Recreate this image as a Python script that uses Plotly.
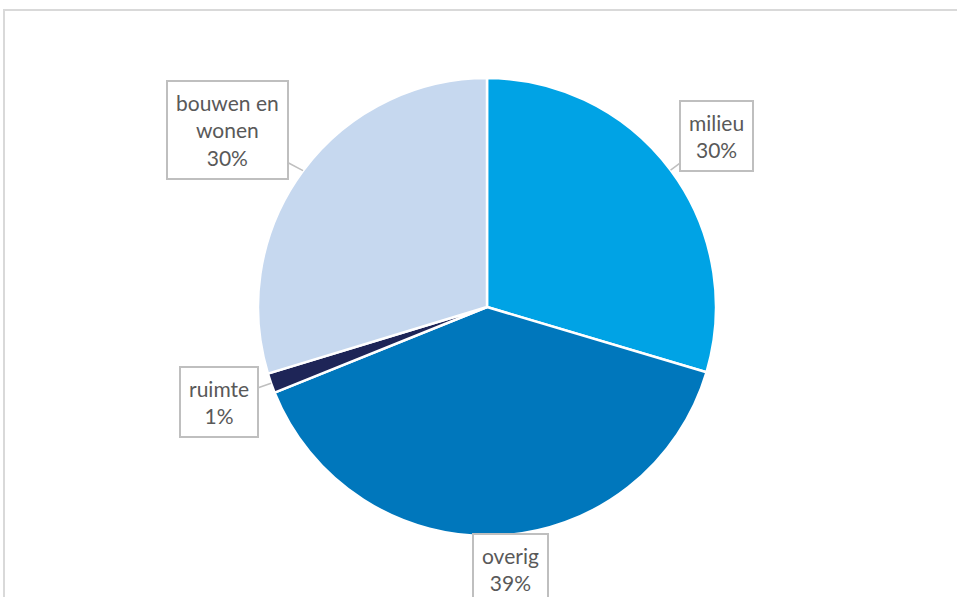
import math
import plotly.graph_objects as go

labels = ["milieu", "overig", "ruimte", "bouwen en wonen"]
label_text = ["milieu", "overig", "ruimte", "bouwen en<br>wonen"]
values = [29.6, 39.3, 1.4, 29.7]
colors = ["#00A3E5", "#0077BC", "#1E2557", "#C6D8EF"]
label_dist = [1.25, 1.15, 1.24, 1.37]
label_angle_shift = [0.0, -2.5, 0.0, -2.3]

W, H = 957, 597
cx, cy, r = 487, 307, 229

fig = go.Figure(go.Pie(
    labels=labels, values=values, sort=False, direction="clockwise", rotation=0,
    marker=dict(colors=colors, line=dict(color="white", width=2.5)),
    textinfo="none", hoverinfo="label+percent", showlegend=False,
    domain=dict(x=[(cx - r) / W, (cx + r) / W], y=[1 - (cy + r) / H, 1 - (cy - r) / H]),
))

total = sum(values)
cum = 0
for lab, txt, v, k, da in zip(labels, label_text, values, label_dist, label_angle_shift):
    mid = (cum + v / 2) / total * 2 * math.pi
    cum += v
    pct = round(v / total * 100)
    la = mid + math.radians(da)
    lx = cx + k * r * math.sin(la)
    ly = cy - k * r * math.cos(la)
    ex = cx + 1.0 * r * math.sin(mid)
    ey = cy - 1.0 * r * math.cos(mid)
    fig.add_annotation(
        x=ex / W, y=1 - ey / H, xref="paper", yref="paper",
        ax=lx - ex, ay=ly - ey, axref="pixel", ayref="pixel",
        text=f"{txt}<br>{pct}%", showarrow=True, arrowhead=0, arrowwidth=1.5,
        arrowcolor="#BFBFBF", standoff=0,
        font=dict(family="Lato", size=21, color="#595959"),
        bgcolor="white", bordercolor="#BFBFBF", borderwidth=2, borderpad=8,
    )

fig.add_shape(type="rect", xref="paper", yref="paper",
              x0=4 / W, x1=1.02, y0=-0.02, y1=1 - 10 / H,
              line=dict(color="#D9D9D9", width=2), layer="below")

fig.update_layout(width=W, height=H, margin=dict(l=0, r=0, t=0, b=0),
                  paper_bgcolor="white", plot_bgcolor="white")
fig.write_html("out.html", config={"displayModeBar": False},
               post_script="document.body.style.margin='0';")
